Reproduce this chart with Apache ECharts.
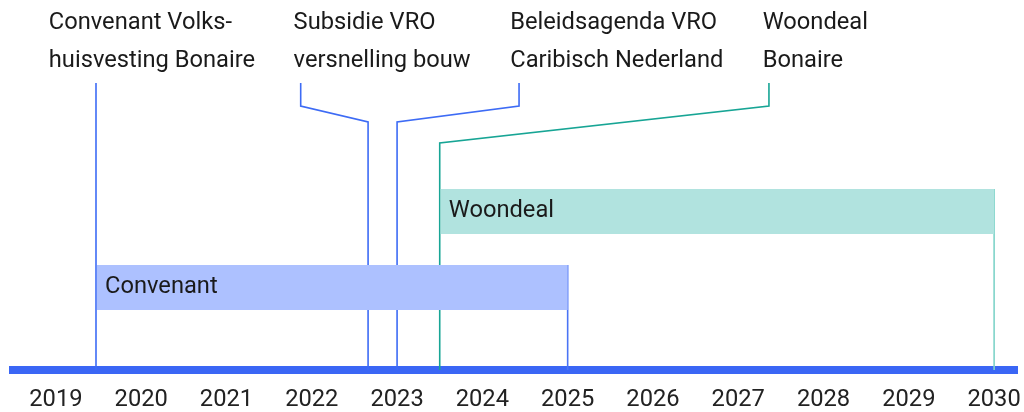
<!DOCTYPE html>
<html>
<head>
<meta charset="utf-8">
<script src="https://cdn.jsdelivr.net/npm/echarts@6/dist/echarts.min.js"></script>
<style>
    html, body { margin: 0; padding: 0; background: #fff; }
    #chart { width: 1024px; height: 412px; }
</style>
</head>
<body>
<div id="chart"></div>
<script>
// jaartallen op de as
const years = [2019, 2020, 2021, 2022, 2023, 2024, 2025, 2026, 2027, 2028, 2029, 2030];

// mijlpalen: datum, tekst, waar het label staat en waar de lijn begint
const milestoneNames = [
    'Convenant Volks-\nhuisvesting Bonaire',
    'Subsidie VRO\nversnelling bouw',
    'Beleidsagenda VRO\nCaribisch Nederland',
    'Woondeal\nBonaire',
];
const milestoneDates = [2019.47, 2022.66, 2023.0, 2023.5];
const milestoneLabelAt = [2018.94, 2021.81, 2024.35, 2027.31];
const milestoneLeaderAt = [2019.47, 2021.87, 2024.43, 2027.36];
const milestoneKink = [264, 248, 248, 227]; // hoogte (px boven de as) waar de lijn verticaal wordt
const milestoneColors = ['#3d6bf5', '#3d6bf5', '#3d6bf5', '#17a595'];

// looptijden
const periodNames = ['Convenant', 'Woondeal'];
const periodStart = [2019.47, 2023.5];
const periodEnd = [2025.0, 2030.0];
const periodLane = [60, 136]; // onderkant balk, px boven de as
const periodColors = ['#adc1ff', '#b1e3df'];
const periodEndLine = ['#4a74f5', '#7fd4c9'];

const FONT = 'Roboto, "Noto Sans", sans-serif';
const FS = 23.7;
const BAR_H = 45;
const LEADER_TOP = 287;
const ELBOW = 264;

const chart = echarts.init(document.getElementById('chart'));

const milestoneData = milestoneDates.map((d, i) => [d, milestoneLabelAt[i], milestoneLeaderAt[i], milestoneKink[i]]);
const periodData = periodStart.map((s, i) => [s, periodEnd[i], periodLane[i]]);

chart.setOption({
    animation: false,
    grid: { left: 9, right: 6, top: 0, bottom: 42 },
    xAxis: {
        type: 'value',
        min: 2018.45,
        max: 2030.28,
        splitLine: { show: false },
        axisTick: { show: false },
        axisLine: { show: true, lineStyle: { color: '#3a66f5', width: 8, cap: 'butt' } },
        axisLabel: {
            customValues: years,
            formatter: v => String(v),
            color: '#222',
            fontFamily: FONT,
            fontSize: FS,
            margin: 30,
            verticalAlign: 'middle',
        },
    },
    yAxis: { type: 'value', min: 0, max: 370, show: false },
    series: [
        {
            // mijlpalen met verbindingslijnen
            type: 'custom',
            z: 2,
            data: milestoneData,
            renderItem: (params, api) => {
                const i = params.dataIndex;
                const date = api.value(0);
                const leader = api.value(2);
                const kink = api.value(3);
                const top = api.coord([leader, LEADER_TOP]);
                const elbow = api.coord([leader, ELBOW]);
                const k = api.coord([date, kink]);
                const base = api.coord([date, 0]);
                const pts = i === 0 ? [top, base] : [top, elbow, k, base];
                const lbl = api.coord([api.value(1), 0]);
                return {
                    type: 'group',
                    children: [
                        {
                            type: 'polyline',
                            shape: { points: pts },
                            style: { stroke: milestoneColors[i], lineWidth: 1.6, fill: null },
                        },
                        {
                            type: 'text',
                            x: lbl[0] - 2,
                            y: 4.5,
                            style: {
                                text: milestoneNames[i],
                                fill: '#1a1a1a',
                                font: FS + 'px ' + FONT,
                                lineHeight: 38,
                                align: 'left',
                                verticalAlign: 'top',
                            },
                        },
                    ],
                };
            },
        },
        {
            // looptijd balken
            type: 'custom',
            z: 3,
            data: periodData,
            renderItem: (params, api) => {
                const i = params.dataIndex;
                const p0 = api.coord([api.value(0), api.value(2) + BAR_H]);
                const p1 = api.coord([api.value(1), api.value(2)]);
                const base = api.coord([api.value(1), 0]);
                return {
                    type: 'group',
                    children: [
                        {
                            type: 'line',
                            shape: { x1: p1[0], y1: p0[1], x2: base[0], y2: base[1] },
                            style: { stroke: periodEndLine[i], lineWidth: 1.6 },
                        },
                        {
                            type: 'rect',
                            shape: { x: p0[0] + 1, y: p0[1], width: p1[0] - p0[0] - 1, height: p1[1] - p0[1] },
                            style: { fill: periodColors[i] },
                        },
                        {
                            type: 'text',
                            x: p0[0] + 9,
                            y: (p0[1] + p1[1]) / 2,
                            style: {
                                text: periodNames[i],
                                fill: '#1a1a1a',
                                font: FS + 'px ' + FONT,
                                align: 'left',
                                verticalAlign: 'middle',
                            },
                        },
                    ],
                };
            },
        },
    ],
});
</script>
</body>
</html>
